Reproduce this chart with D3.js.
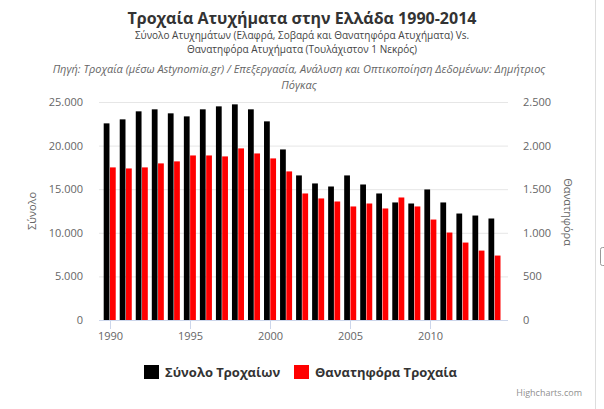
<meta charset="utf-8">
<head>
  <script src="https://d3js.org/d3.v7.min.js"></script>
  <style>
    body { margin: 0; background: #fff; }
    svg { font-family: "Open Sans", sans-serif; }
  </style>
</head>
<body>
  <svg id="svg" width="604" height="409"></svg>
  <script>
    let years = d3.range(1990, 2015);
    let totalAccidents = [22550, 23010, 23930, 24160, 23700, 23350, 24160, 24500, 24730, 24160, 22780, 19560,
      16580, 15660, 15310, 16580, 15540, 14510, 13480, 13360, 14970, 13480, 12210, 11980, 11640];
    let fatalAccidents = [1750, 1738, 1750, 1796, 1819, 1887, 1887, 1876, 1968, 1910, 1853, 1704,
      1451, 1394, 1359, 1302, 1336, 1279, 1405, 1302, 1152, 1003, 888, 796, 739];
    let leftTicks = [0, 5000, 10000, 15000, 20000, 25000];
    let rightTicks = [0, 500, 1000, 1500, 2000, 2500];
    let xTicks = [1990, 1995, 2000, 2005, 2010];
    let seriesNames = ["Σύνολο Τροχαίων", "Θανατηφόρα Τροχαία"];
    let seriesColors = ["#000000", "#ff0000"];

    let svg = d3.select("#svg");
    let plotLeft = 99, plotRight = 508, plotTop = 102, plotBottom = 320;

    let fmt = (v) => d3.format(",")(v).replace(/,/g, ".");

    let x = d3.scaleBand().domain(years).range([101.7, 502.5]);
    let inner = d3.scaleBand().domain([0, 1]).range([2, x.bandwidth() - 2]).paddingInner(0.08);
    let yLeft = d3.scaleLinear().domain([0, 25000]).range([plotBottom, plotTop]);
    let yRight = d3.scaleLinear().domain([0, 2500]).range([plotBottom, plotTop]);

    // titles
    svg.append("text").attr("x", 302).attr("y", 24).attr("text-anchor", "middle")
      .attr("font-size", 16).attr("font-weight", "bold").attr("fill", "#333")
      .text("Τροχαία Ατυχήματα στην Ελλάδα 1990-2014");
    let sub = svg.append("text").attr("text-anchor", "middle").attr("font-size", 10).attr("fill", "#444");
    sub.append("tspan").attr("x", 302).attr("y", 39).text("Σύνολο Ατυχημάτων (Ελαφρά, Σοβαρά και Θανατηφόρα Ατυχήματα) Vs.");
    sub.append("tspan").attr("x", 302).attr("y", 53).text("Θανατηφόρα Ατυχήματα (Τουλάχιστον 1 Νεκρός)");
    let src = svg.append("text").attr("text-anchor", "middle").attr("font-size", 11)
      .attr("font-style", "italic").attr("fill", "#666");
    src.append("tspan").attr("x", 299).attr("y", 73).text("Πηγή: Τροχαία (μέσω Astynomia.gr) / Επεξεργασία, Ανάλυση και Οπτικοποίηση Δεδομένων: Δημήτριος");
    src.append("tspan").attr("x", 299).attr("y", 89).text("Πόγκας");

    // grid
    svg.append("g").selectAll("line").data(leftTicks.slice(1)).enter().append("line")
      .attr("x1", plotLeft).attr("x2", plotRight)
      .attr("y1", d => yLeft(d) + 0.5).attr("y2", d => yLeft(d) + 0.5)
      .attr("stroke", "#e6e6e6");

    // left axis labels
    svg.append("g").selectAll("text").data(leftTicks).enter().append("text")
      .attr("x", 83).attr("y", d => yLeft(d) + 4).attr("text-anchor", "end")
      .attr("font-size", 11).attr("fill", "#666").text(fmt);
    svg.append("g").selectAll("text").data(rightTicks).enter().append("text")
      .attr("x", 523).attr("y", d => yRight(d) + 4).attr("text-anchor", "start")
      .attr("font-size", 11).attr("fill", "#666").text(fmt);

    svg.append("text").attr("transform", "translate(36,211) rotate(-90)").attr("text-anchor", "middle")
      .attr("font-size", 11).attr("fill", "#666").text("Σύνολο");
    svg.append("text").attr("transform", "translate(564,212) rotate(90)").attr("text-anchor", "middle")
      .attr("font-size", 11).attr("fill", "#666").text("Θανατηφόρα");

    // bars
    let bars = svg.append("g");
    bars.selectAll("rect.total").data(totalAccidents).enter().append("rect")
      .attr("x", (d, i) => x(years[i]) + inner(0)).attr("width", inner.bandwidth())
      .attr("y", d => yLeft(d)).attr("height", d => plotBottom - yLeft(d))
      .attr("fill", seriesColors[0]);
    bars.selectAll("rect.fatal").data(fatalAccidents).enter().append("rect")
      .attr("x", (d, i) => x(years[i]) + inner(1)).attr("width", inner.bandwidth())
      .attr("y", d => yRight(d)).attr("height", d => plotBottom - yRight(d))
      .attr("fill", seriesColors[1]);

    // x axis
    svg.append("line").attr("x1", plotLeft).attr("x2", plotRight)
      .attr("y1", plotBottom + 0.5).attr("y2", plotBottom + 0.5).attr("stroke", "#ccd6eb");
    let xt = svg.append("g").selectAll("g").data(xTicks).enter().append("g")
      .attr("transform", d => `translate(${Math.round(x(d) + x.bandwidth() / 2) + 0.5},${plotBottom})`);
    xt.append("line").attr("y1", 0).attr("y2", 9).attr("stroke", "#ccd6eb");
    xt.append("text").attr("y", 20).attr("text-anchor", "middle").attr("font-size", 11)
      .attr("fill", "#666").text(d => d);

    // legend
    let legendX = [144, 294];
    let lg = svg.append("g").selectAll("g").data(seriesNames).enter().append("g")
      .attr("transform", (d, i) => `translate(${legendX[i]},365)`);
    lg.append("rect").attr("width", 15).attr("height", 14).attr("fill", (d, i) => seriesColors[i]);
    lg.append("text").attr("x", 21).attr("y", 12).attr("font-size", 13).attr("font-weight", "bold")
      .attr("fill", "#333").text(d => d);

    svg.append("text").attr("x", 582).attr("y", 396).attr("text-anchor", "end")
      .attr("font-size", 9).attr("fill", "#909090").text("Highcharts.com");

    // page edge artefacts
    svg.append("line").attr("x1", 595.5).attr("x2", 595.5).attr("y1", 0).attr("y2", 409).attr("stroke", "#ddd");
    svg.append("rect").attr("x", 600.5).attr("y", 247.5).attr("width", 6).attr("height", 18)
      .attr("rx", 2).attr("fill", "none").attr("stroke", "#999");
  </script>
</body>
